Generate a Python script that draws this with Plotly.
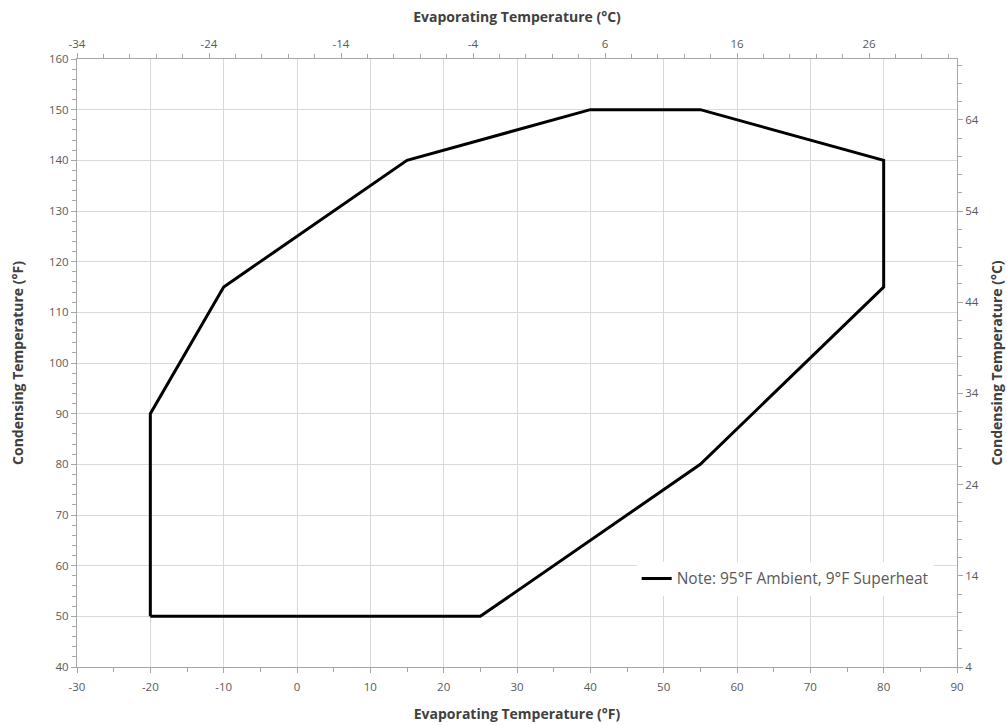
import plotly.graph_objects as go

# Operating envelope (°F)
evap_f = [-20, -20, -10, 15, 40, 55, 80, 80, 55, 25, -20]
cond_f = [50, 90, 115, 140, 150, 150, 140, 115, 80, 50, 50]
series_name = "Note: 95°F Ambient, 9°F Superheat"

x_f_ticks = [-30, -20, -10, 0, 10, 20, 30, 40, 50, 60, 70, 80, 90]
y_f_ticks = [40, 50, 60, 70, 80, 90, 100, 110, 120, 130, 140, 150, 160]
x_c_ticks = [-34, -24, -14, -4, 6, 16, 26]
y_c_ticks = [4, 14, 24, 34, 44, 54, 64]

FONT = "Open Sans"
TICK_COL = "#595959"
TITLE_COL = "#404040"
GRID = "#d9d9d9"
AXLINE = "#a6a6a6"

evap_c = [(v - 32) / 1.8 for v in evap_f]
cond_c = [(v - 32) / 1.8 for v in cond_f]


def labels(vals):
    return [str(v) for v in vals]


fig = go.Figure()
fig.add_trace(go.Scatter(x=evap_f, y=cond_f, mode="lines", name=series_name,
                         line=dict(color="#000000", width=3), xaxis="x", yaxis="y"))
fig.add_trace(go.Scatter(x=evap_c, y=cond_c, mode="lines", showlegend=False,
                         line=dict(color="rgba(0,0,0,0)", width=0), hoverinfo="skip",
                         xaxis="x2", yaxis="y2"))

tickfont = dict(family=FONT, size=11.5, color=TICK_COL)
titlefont = dict(family=FONT, size=14, color=TITLE_COL, weight="bold")

common = dict(showline=True, linecolor=AXLINE, linewidth=1, ticks="outside",
              ticklen=5, tickcolor=AXLINE, tickfont=tickfont, zeroline=False,
              automargin=False, tickmode="array")

fig.update_layout(
    width=1007, height=725,
    paper_bgcolor="white", plot_bgcolor="white",
    margin=dict(l=77, r=50, t=59, b=58),
    font=dict(family=FONT, color=TICK_COL),
    xaxis=dict(range=[-30, 90], tickvals=x_f_ticks, ticktext=labels(x_f_ticks),
               showgrid=True, gridcolor=GRID, gridwidth=1, ticklabelstandoff=4,
               title=dict(text="Evaporating Temperature (°F)", font=titlefont, standoff=16),
               minor=dict(ticks="outside", dtick=5, ticklen=4, tickcolor=AXLINE, showgrid=False),
               **common),
    yaxis=dict(range=[40, 160], tickvals=y_f_ticks, ticktext=labels(y_f_ticks),
               showgrid=True, gridcolor=GRID, gridwidth=1,
               title=dict(text="Condensing Temperature (°F)", font=titlefont, standoff=22),
               minor=dict(ticks="outside", dtick=2, ticklen=4, tickcolor=AXLINE, showgrid=False),
               **common),
    xaxis2=dict(range=[-34, -34 + 120 / 1.8], tickvals=x_c_ticks, ticktext=labels(x_c_ticks),
                overlaying="x", side="top", anchor="y", showgrid=False,
                title=dict(text="Evaporating Temperature (°C)", font=titlefont, standoff=10),
                minor=dict(ticks="outside", dtick=2, ticklen=4, tickcolor=AXLINE, showgrid=False),
                **common),
    yaxis2=dict(range=[4, 4 + 120 / 1.8], tickvals=y_c_ticks, ticktext=labels(y_c_ticks),
                overlaying="y", side="right", anchor="x", showgrid=False,
                title=dict(text="Condensing Temperature (°C)", font=titlefont, standoff=14),
                minor=dict(ticks="outside", dtick=2, ticklen=4, tickcolor=AXLINE, showgrid=False),
                **common),
    legend=dict(x=0.636, y=0.145, xanchor="left", yanchor="middle", bgcolor="white",
                font=dict(family=FONT, size=15.5, color=TICK_COL), itemwidth=30),
    showlegend=True,
)

fig.write_html("out.html", config={"displayModeBar": False},
               post_script="document.body.style.margin='0';document.body.style.overflow='hidden';")
